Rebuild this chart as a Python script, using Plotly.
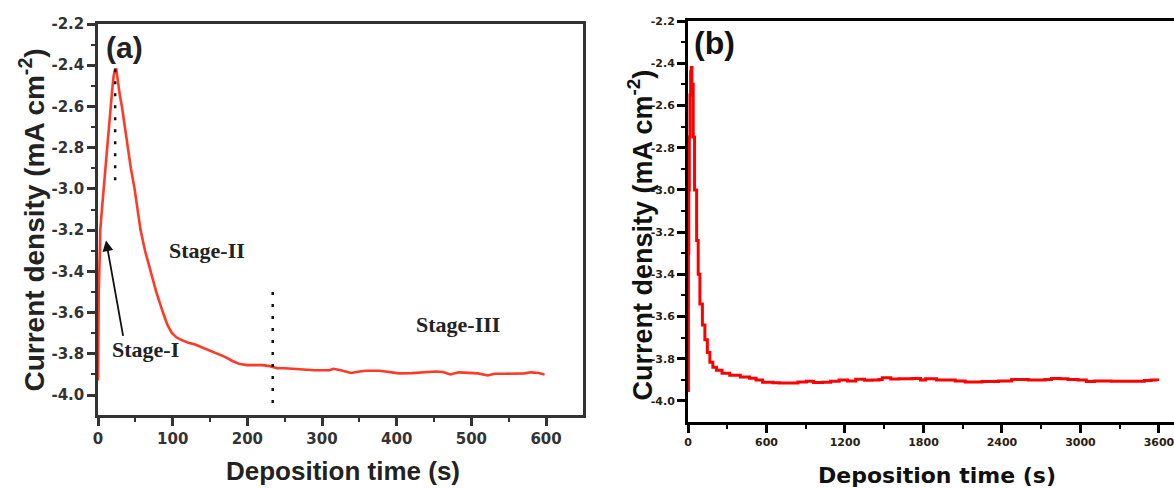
import plotly.graph_objects as go

# ---------------- data ----------------
time_a = [0, 1, 2.5, 3, 5, 7.5, 10, 12, 15, 17, 19, 21, 23, 24.5, 26, 29, 32, 36, 40, 44,
          49, 53, 57, 63, 70, 78, 87, 93, 99, 105, 110, 120, 130, 140, 150, 160, 170,
          180, 190, 200, 210, 220, 230, 240, 250, 270, 290, 310, 315, 325, 339, 348, 359,
          377, 390, 403, 420, 440, 452, 462, 472, 483, 495, 509, 522, 531, 545, 560, 571,
          580, 590, 598]
cur_a = [-3.93, -3.5, -3.3, -3.2, -3.11, -3.0, -2.9, -2.8, -2.69, -2.6, -2.52, -2.45,
         -2.42, -2.42, -2.47, -2.54, -2.6, -2.7, -2.8, -2.9, -3.0, -3.1, -3.2, -3.3, -3.4,
         -3.5, -3.6, -3.66, -3.7, -3.72, -3.73, -3.745, -3.755, -3.77,
         -3.785, -3.8, -3.815, -3.835, -3.85, -3.855, -3.855, -3.855, -3.86, -3.87, -3.87,
         -3.875, -3.88, -3.88, -3.873, -3.88, -3.893, -3.887, -3.882, -3.882, -3.89, -3.895,
         -3.894, -3.89, -3.886, -3.888, -3.9, -3.89, -3.893, -3.895, -3.905, -3.897, -3.897,
         -3.896, -3.895, -3.89, -3.893, -3.9]

time_b = [0, 3, 6, 10, 15, 20, 25, 30, 40, 50, 66, 78, 91, 110, 129, 148, 167, 190, 218,
          260, 319, 400, 471, 520, 570, 650, 700, 775, 840, 905, 960, 1028, 1090, 1155,
          1220, 1282, 1350, 1409, 1460, 1485, 1550, 1612, 1714, 1777, 1815, 1900, 1967,
          2043, 2119, 2246, 2373, 2474, 2601, 2728, 2778, 2842, 2905, 2981, 3045, 3108,
          3235, 3387, 3489, 3540, 3590]
cur_b = [-3.95, -3.3, -3.0, -2.75, -2.55, -2.44, -2.42, -2.5, -2.75, -3.0, -3.24, -3.4,
         -3.54, -3.64, -3.71, -3.77, -3.816, -3.84, -3.854, -3.868, -3.878, -3.886, -3.892,
         -3.9, -3.911, -3.913, -3.915, -3.915, -3.91, -3.906, -3.912, -3.911, -3.906,
         -3.901, -3.905, -3.897, -3.902, -3.9, -3.898, -3.89, -3.896, -3.895, -3.893, -3.9,
         -3.895, -3.9, -3.9, -3.905, -3.91, -3.908, -3.905, -3.898, -3.9, -3.898, -3.893,
         -3.895, -3.898, -3.9, -3.908, -3.905, -3.906, -3.906, -3.903, -3.9, -3.905]

stage_labels = ["Stage-I", "Stage-II", "Stage-III"]
stage_x = [64, 146.6, 482]
stage_y = [-3.78, -3.30, -3.66]
divider_a = [(23, -2.42, -3.0), (234, -3.5, -4.08)]

ytick_vals = [-4.0, -3.8, -3.6, -3.4, -3.2, -3.0, -2.8, -2.6, -2.4, -2.2]
xtick_a = [0, 100, 200, 300, 400, 500, 600]
xtick_b = [0, 600, 1200, 1800, 2400, 3000, 3600]

# ---------------- figure ----------------
W, H = 1174, 488

fig = go.Figure()
fig.add_trace(go.Scatter(x=time_a, y=cur_a, mode="lines", xaxis="x", yaxis="y",
                         line=dict(color="#ff3a26", width=2.6), showlegend=False))
fig.add_trace(go.Scatter(x=time_b, y=cur_b, mode="lines", xaxis="x2", yaxis="y2",
                         line=dict(color="#ff0000", width=3, shape="hv"), showlegend=False))

tickA = dict(family="DejaVu Sans", size=15, color="#333333", weight="bold")
tickB = dict(family="DejaVu Sans", size=11, color="#2a2010", weight="bold")

common_a = dict(showgrid=False, zeroline=False, ticks="outside", linewidth=2.5,
                linecolor="#333333", tickcolor="#333333", tickwidth=2.5, ticklen=8,
                mirror=True, tickfont=tickA, automargin=False)
common_b = dict(showgrid=False, zeroline=False, ticks="outside", linewidth=3,
                linecolor="#000000", tickcolor="#000000", tickwidth=2.5, ticklen=8,
                tickfont=tickB, automargin=False, ticklabeloverflow="allow")

fig.update_layout(
    width=W, height=H, margin=dict(l=0, r=0, t=0, b=0),
    paper_bgcolor="white", plot_bgcolor="white",
    xaxis=dict(domain=[98 / W, 583 / W], range=[0, 649.5], tickvals=xtick_a,
               minor=dict(dtick=50, tick0=0, ticks="outside", ticklen=4, tickwidth=2,
                          tickcolor="#333333"),
               anchor="y", **common_a),
    yaxis=dict(domain=[1 - 415 / H, 1 - 24 / H], range=[-4.097, -2.2], tickvals=ytick_vals,
               ticktext=[f"{v:.1f}" for v in ytick_vals],
               minor=dict(dtick=0.1, tick0=-4.0, ticks="outside", ticklen=4, tickwidth=2,
                          tickcolor="#333333"),
               anchor="x", **common_a),
    xaxis2=dict(domain=[688 / W, 1.0], range=[0, 3715], tickvals=xtick_b,
                minor=dict(dtick=300, tick0=0, ticks="outside", ticklen=4, tickwidth=2,
                           tickcolor="#000000"),
                anchor="y2", mirror=True, **common_b),
    yaxis2=dict(domain=[1 - 422 / H, 1 - 21 / H], range=[-4.0995, -2.2], tickvals=ytick_vals,
                ticktext=[f"{v:.1f}" for v in ytick_vals],
                minor=dict(dtick=0.1, tick0=-4.0, ticks="outside", ticklen=4, tickwidth=2,
                           tickcolor="#000000"),
                anchor="x2", **common_b),
)

# dotted dividers in panel (a)
for xd, y0, y1 in divider_a:
    fig.add_shape(type="line", xref="x", yref="y", x0=xd, x1=xd, y0=y0, y1=y1,
                  line=dict(color="#111111", width=2.5, dash="3px,9px"))

# stage labels
for lab, sx, sy in zip(stage_labels, stage_x, stage_y):
    fig.add_annotation(x=sx, y=sy, xref="x", yref="y", text=lab, showarrow=False,
                       font=dict(family="Liberation Serif", size=22, color="#222222",
                                 weight="bold"))

# arrow for Stage-I
fig.add_annotation(x=10.7, y=-3.25, xref="x", yref="y", ax=34, ay=-3.72, axref="x",
                   ayref="y", text="", showarrow=True, arrowhead=2, arrowsize=1.2,
                   arrowwidth=1.8, arrowcolor="#111111")

# panel letters
fig.add_annotation(x=124 / W, y=1 - 47.5 / H, xref="paper", yref="paper", text="(a)",
                   showarrow=False, xanchor="center", yanchor="middle",
                   font=dict(family="Liberation Sans", size=30, color="#222222", weight="bold"))
fig.add_annotation(x=714.5 / W, y=1 - 43 / H, xref="paper", yref="paper", text="(b)",
                   showarrow=False, xanchor="center", yanchor="middle",
                   font=dict(family="Liberation Sans", size=32, color="#111111", weight="bold"))

# axis titles
ytitle = "Current density (mA cm<sup>-2</sup>)"
fig.add_annotation(x=32.5 / W, y=1 - 220 / H, xref="paper", yref="paper", text=ytitle,
                   showarrow=False, textangle=-90, xanchor="center", yanchor="middle",
                   font=dict(family="Liberation Sans", size=28, color="#222222",
                             weight="bold"))
fig.add_annotation(x=342.5 / W, y=1 - 471 / H, xref="paper", yref="paper",
                   text="Deposition time (s)", showarrow=False, xanchor="center",
                   yanchor="middle",
                   font=dict(family="Liberation Sans", size=26, color="#222222", weight="bold"))
fig.add_annotation(x=640 / W, y=1 - 235.5 / H, xref="paper", yref="paper", text=ytitle,
                   showarrow=False, textangle=-90, xanchor="center", yanchor="middle",
                   font=dict(family="Liberation Sans", size=27, color="#111111",
                             weight="bold"))
fig.add_annotation(x=936.7 / W, y=1 - 475.5 / H, xref="paper", yref="paper",
                   text="Deposition time (s)", showarrow=False, xanchor="center",
                   yanchor="middle",
                   font=dict(family="DejaVu Sans", size=22, color="#111111", weight="bold"))

fig.write_html("out.html", config={"displayModeBar": False},
               post_script="document.body.style.margin='0';")
